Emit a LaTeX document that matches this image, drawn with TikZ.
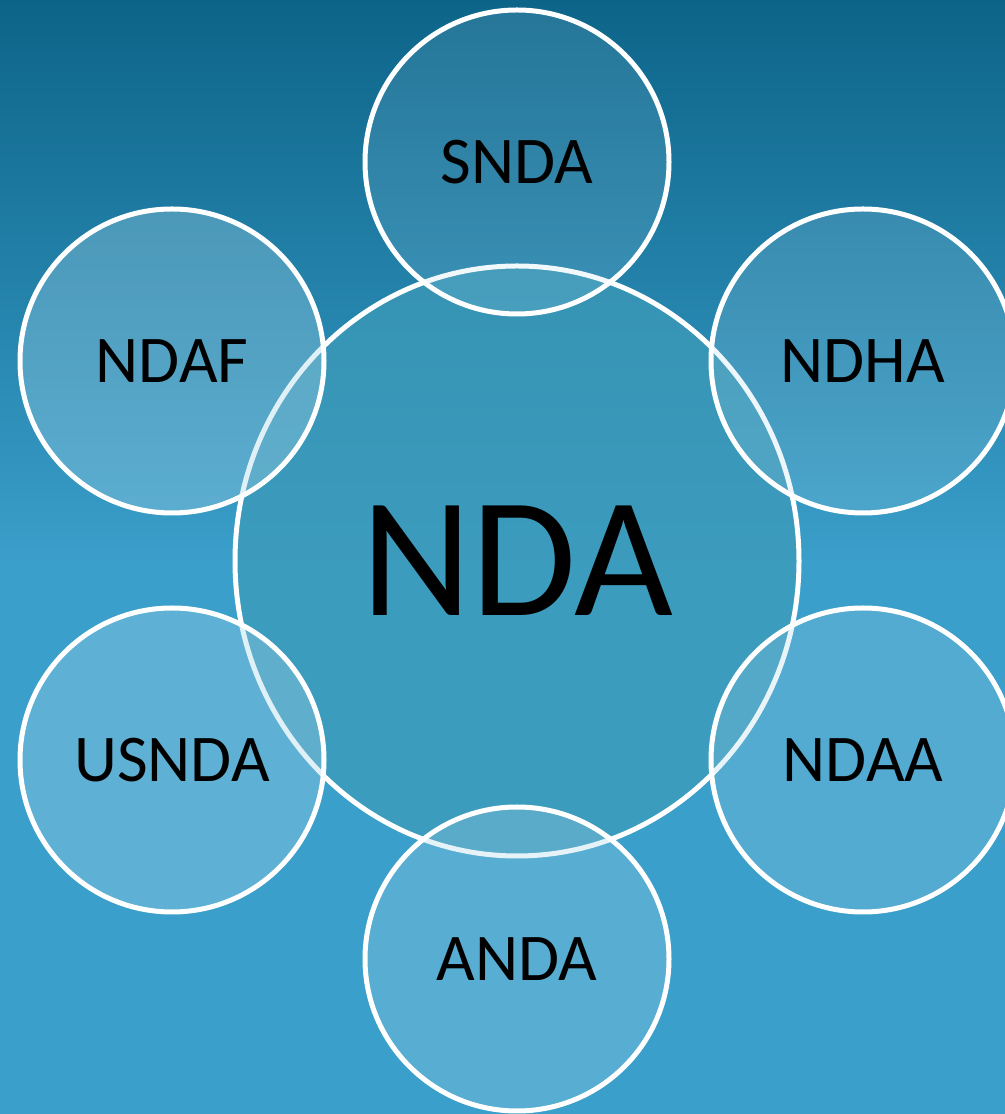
\documentclass[tikz,border=0pt]{standalone}
\usepackage{fontspec}
\setmainfont{Carlito}
\usetikzlibrary{positioning, shapes.geometric, calc}

\definecolor{bgtop}{RGB}{13,100,137}
\definecolor{bgbot}{RGB}{58,159,202}
\definecolor{hubfill}{RGB}{62,155,185}
\definecolor{satfill}{RGB}{165,212,232}

\tikzset{
    hub/.style={ellipse, draw=white, line width=0.05cm, fill=hubfill, fill opacity=0.7, text opacity=1,
        minimum width=5.64cm, minimum height=5.9cm, font=\fontsize{48.6}{58}\selectfont},
    sat/.style={circle, draw=white, line width=0.05cm, fill=satfill, fill opacity=#1, text opacity=1,
        minimum size=3.04cm, font=\fontsize{19}{23}\selectfont},
    sat/.default=0.25
}

\begin{document}
\begin{tikzpicture}

        % BACKGROUND
        \useasboundingbox (0,0) rectangle (10.05,11.14);
        \clip (0,0) rectangle (10.05,11.14);
        \fill[bgbot] (0,0) rectangle (10.05,11.14);
        \shade[top color=bgtop, bottom color=bgbot] (0,5.5) rectangle (10.05,11.14);

        % CENTRE
        \node[hub] (NDA) at (5.17,5.53) {NDA};

        % SATELLITES (DRAWN OVER THE CENTRE)
        \node[sat=0.16] (SNDA)  at ($(NDA) + (0,3.99)$)       {SNDA};
        \node[sat=0.34] (NDAF)  at ($(NDA) + (-3.45,2.0)$)    {NDAF};
        \node[sat=0.2]  (NDHA)  at ($(NDA) + (3.46,2.0)$)     {NDHA};
        \node[sat=0.34] (USNDA) at ($(NDA) + (-3.45,-1.99)$)  {USNDA};
        \node[sat=0.24] (NDAA)  at ($(NDA) + (3.46,-1.99)$)   {NDAA};
        \node[sat=0.28] (ANDA)  at ($(NDA) + (0,-3.98)$)      {ANDA};

    \end{tikzpicture}
\end{document}
